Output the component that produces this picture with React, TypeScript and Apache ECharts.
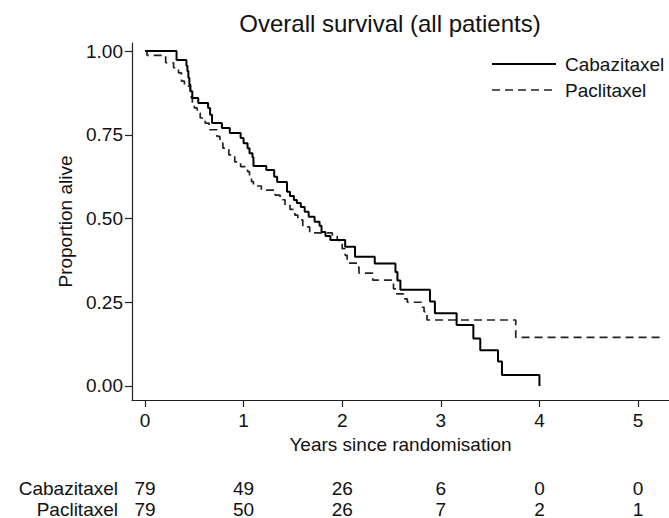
import React, { useEffect, useRef } from "react";
import * as echarts from "echarts";

const FONT = "'Liberation Sans', Arial, Helvetica, sans-serif";

const chartTitle = "Overall survival (all patients)";
const seriesNames = ["Cabazitaxel", "Paclitaxel"];
const xTicks = [0, 1, 2, 3, 4, 5];
const yTicks = [0, 0.25, 0.5, 0.75, 1];

// Kaplan-Meier steps: [years, survival after event]
const cabazitaxel: [number, number][] = [
  [0, 1.0], [0.32, 0.973], [0.42, 0.956], [0.43, 0.94], [0.44, 0.92], [0.45, 0.9],
  [0.46, 0.88], [0.48, 0.86], [0.54, 0.845], [0.64, 0.83], [0.66, 0.81], [0.68, 0.785],
  [0.78, 0.77], [0.86, 0.755], [0.97, 0.74], [1.0, 0.725], [1.04, 0.71], [1.06, 0.695],
  [1.09, 0.683], [1.1, 0.657], [1.23, 0.645], [1.31, 0.625], [1.34, 0.609], [1.44, 0.58],
  [1.47, 0.567], [1.51, 0.555], [1.54, 0.546], [1.58, 0.534], [1.62, 0.52], [1.66, 0.505],
  [1.72, 0.49], [1.77, 0.478], [1.79, 0.46], [1.83, 0.448], [1.88, 0.436], [2.03, 0.416],
  [2.13, 0.386], [2.33, 0.366], [2.54, 0.34], [2.56, 0.315], [2.59, 0.287], [2.89, 0.252],
  [2.94, 0.217], [3.16, 0.182], [3.33, 0.142], [3.4, 0.107], [3.58, 0.073], [3.62, 0.033],
  [4.0, 0.0],
];

const paclitaxel: [number, number][] = [
  [0, 1.0], [0.02, 0.987], [0.21, 0.965], [0.29, 0.95], [0.34, 0.935], [0.37, 0.91],
  [0.4, 0.895], [0.46, 0.88], [0.47, 0.86], [0.48, 0.84], [0.5, 0.83], [0.53, 0.815],
  [0.56, 0.8], [0.61, 0.785], [0.65, 0.765], [0.73, 0.745], [0.76, 0.725], [0.79, 0.71],
  [0.85, 0.69], [0.91, 0.669], [0.97, 0.655], [1.04, 0.64], [1.06, 0.625], [1.08, 0.61],
  [1.1, 0.597], [1.18, 0.585], [1.32, 0.57], [1.37, 0.556], [1.42, 0.54], [1.47, 0.527],
  [1.52, 0.51], [1.55, 0.496], [1.6, 0.475], [1.67, 0.457], [1.9, 0.446], [1.95, 0.435],
  [2.0, 0.41], [2.03, 0.39], [2.05, 0.367], [2.15, 0.355], [2.17, 0.337], [2.31, 0.316],
  [2.52, 0.29], [2.54, 0.275], [2.62, 0.26], [2.66, 0.25], [2.81, 0.235], [2.83, 0.222],
  [2.86, 0.197], [3.76, 0.145], [5.24, 0.145],
];

const riskTimes = [0, 1, 2, 3, 4, 5];
const riskCabazitaxel = [79, 49, 26, 6, 0, 0];
const riskPaclitaxel = [79, 50, 26, 7, 2, 1];

export default function App() {
  const ref = useRef<HTMLDivElement>(null);
  useEffect(() => {
    if (!ref.current) return;
    const chart = echarts.init(ref.current, null, { renderer: "svg" });
    const textColor = "#111";
    chart.setOption({
      animation: false,
      backgroundColor: "#fff",
      title: {
        text: chartTitle,
        left: 385,
        top: 6,
        textAlign: "center",
        textStyle: { fontFamily: FONT, fontSize: 24, fontWeight: "normal", color: textColor },
      },
      grid: { left: 132, right: 0, top: 43, bottom: 118, containLabel: false },
      xAxis: {
        type: "value",
        min: -0.1318,
        max: 5.314,
        name: "Years since randomisation",
        nameLocation: "middle",
        nameGap: 30,
        nameTextStyle: { fontFamily: FONT, fontSize: 19, color: textColor },
        axisLine: { show: true, onZero: false, lineStyle: { color: "#222", width: 1.2 } },
        axisTick: { show: true, length: 7, customValues: xTicks, lineStyle: { color: "#222", width: 1.2 } },
        axisLabel: {
          customValues: xTicks,
          margin: 11,
          fontFamily: FONT,
          fontSize: 19,
          color: textColor,
          formatter: (v: number) => String(Math.round(v)),
        },
        splitLine: { show: false },
      },
      yAxis: {
        type: "value",
        min: -0.0418,
        max: 1.0239,
        name: "Proportion alive",
        nameLocation: "middle",
        nameGap: 50,
        nameRotate: 90,
        nameTextStyle: { fontFamily: FONT, fontSize: 19, color: textColor },
        axisLine: { show: true, onZero: false, lineStyle: { color: "#222", width: 1.2 } },
        axisTick: { show: true, length: 7, customValues: yTicks, lineStyle: { color: "#222", width: 1.2 } },
        axisLabel: {
          customValues: yTicks,
          margin: 9,
          fontFamily: FONT,
          fontSize: 19,
          color: textColor,
          formatter: (v: number) => v.toFixed(2),
        },
        splitLine: { show: false },
      },
      series: [
        {
          name: seriesNames[0],
          type: "line",
          step: "end",
          showSymbol: false,
          data: cabazitaxel,
          lineStyle: { color: "#000", width: 2 },
          z: 3,
        },
        {
          name: seriesNames[1],
          type: "line",
          step: "end",
          showSymbol: false,
          data: paclitaxel,
          lineStyle: { color: "#222", width: 1.7, type: [8, 5] },
          z: 2,
        },
      ],
    });

    const graphics: any[] = [];
    // legend
    const legendX0 = 492, legendX1 = 556, legendTextX = 565;
    const legendY = [64, 90];
    seriesNames.forEach((name, i) => {
      graphics.push({
        type: "line",
        shape: { x1: legendX0, y1: legendY[i], x2: legendX1, y2: legendY[i] },
        style: i === 0 ? { stroke: "#000", lineWidth: 2 } : { stroke: "#222", lineWidth: 1.7, lineDash: [8, 5] },
      });
      graphics.push({
        type: "text",
        x: legendTextX,
        y: legendY[i],
        style: { text: name, fontFamily: FONT, fontSize: 19, fill: textColor, verticalAlign: "middle", align: "left" },
      });
    });
    // number at risk table
    const rows = [riskCabazitaxel, riskPaclitaxel];
    const rowY = [488, 509];
    rows.forEach((vals, r) => {
      graphics.push({
        type: "text",
        x: 118,
        y: rowY[r],
        style: { text: seriesNames[r], fontFamily: FONT, fontSize: 19, fill: textColor, align: "right", verticalAlign: "middle" },
      });
      vals.forEach((v, i) => {
        const px = chart.convertToPixel({ xAxisIndex: 0 }, riskTimes[i]) as number;
        graphics.push({
          type: "text",
          x: px,
          y: rowY[r],
          style: { text: String(v), fontFamily: FONT, fontSize: 19, fill: textColor, align: "center", verticalAlign: "middle" },
        });
      });
    });
    chart.setOption({ graphic: graphics });

    return () => chart.dispose();
  }, []);
  return <div ref={ref} style={{ position: "absolute", left: 0, top: 0, width: 669, height: 518 }} />;
}
